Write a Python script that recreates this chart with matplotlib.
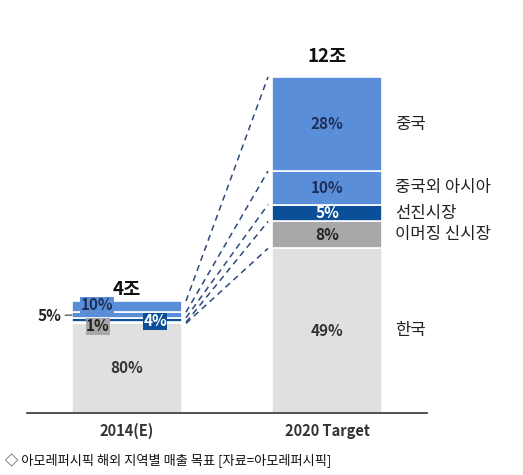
import matplotlib
matplotlib.use('Agg')
import matplotlib.pyplot as plt
import numpy as np

plt.rcParams['font.family'] = ['Noto Sans CJK KR', 'DejaVu Sans']

# data
years = ['2014(E)', '2020 Target']
totals = [4, 12]               # 조 원
total_labels = ['4조', '12조']
regions = ['한국', '이머징 신시장', '선진시장', '중국외 아시아', '중국']
shares_2014 = [80, 1, 4, 5, 10]
shares_2020 = [49, 8, 5, 10, 28]
caption = '◇ 아모레퍼시픽 해외 지역별 매출 목표 [자료=아모레퍼시픽]'

colors = ['#e0e0e0', '#a8a8a8', '#0b4f98', '#5b8ed8', '#5b8ed8']
text_colors = ['#333333', '#222222', 'white', '#1c2f5a', '#1c2f5a']

fig = plt.figure(figsize=(5.23, 4.75), dpi=100)
ax = fig.add_axes([27 / 523, 62 / 475, 400 / 523, 392 / 475])
width = 0.55
x = np.arange(len(years))
pct_size = 11

shares = [shares_2014, shares_2020]
title_offsets = [0.4, 0.72]
bounds = []
for i, (tot, sh) in enumerate(zip(totals, shares)):
    vals = np.array(sh) * tot / 100
    bottoms = np.concatenate([[0], np.cumsum(vals)[:-1]])
    ax.bar([x[i]] * len(vals), vals, width, bottom=bottoms, color=colors,
           edgecolor='white', linewidth=1.2)
    bounds.append(np.cumsum(vals))
    ax.text(x[i], tot + title_offsets[i], total_labels[i], ha='center', va='center',
            fontsize=13.5, fontweight='bold', color='#111111')

# 2020 segment labels
vals = np.array(shares_2020) * totals[1] / 100
mids = np.cumsum(vals) - vals / 2
for k, (v, m) in enumerate(zip(shares_2020, mids)):
    ax.text(x[1], m, f'{v}%', ha='center', va='center', fontsize=pct_size,
            fontweight='bold', color=text_colors[k])
    ax.text(x[1] + 0.34, m, regions[k], ha='left', va='center', fontsize=12,
            color='#222222')

# 2014 segment labels
vals = np.array(shares_2014) * totals[0] / 100
cum = np.cumsum(vals)
mids = cum - vals / 2
ax.text(x[0], mids[0], f'{shares_2014[0]}%', ha='center', va='center',
        fontsize=pct_size, fontweight='bold', color='#333333')
ax.text(x[0] - 0.15, mids[4] + 0.05, f'{shares_2014[4]}%', ha='center', va='center',
        fontsize=pct_size, fontweight='bold', color='#1c2f5a',
        bbox=dict(boxstyle='square,pad=0.02', fc=colors[4], ec='none'))
ax.text(x[0] - 0.145, mids[1] - 0.13, f'{shares_2014[1]}%', ha='center', va='center',
        fontsize=pct_size, fontweight='bold', color='#222222',
        bbox=dict(boxstyle='square,pad=0.02', fc=colors[1], ec='none'))
ax.text(x[0] + 0.14, mids[2] - 0.05, f'{shares_2014[2]}%', ha='center', va='center',
        fontsize=pct_size, fontweight='bold', color='white',
        bbox=dict(boxstyle='square,pad=0.02', fc=colors[2], ec='none'))
ax.annotate(f'{shares_2014[3]}%', xy=(x[0] - width / 2, mids[3]),
            xytext=(x[0] - width / 2 - 0.055, mids[3] - 0.03),
            ha='right', va='center', fontsize=pct_size, fontweight='bold', color='#222222',
            arrowprops=dict(arrowstyle='-', color='#333333', lw=0.8,
                            shrinkA=1, shrinkB=0))

# connector lines
for b0, b1 in zip(bounds[0], bounds[1]):
    ax.plot([x[0] + width / 2 + 0.02, x[1] - width / 2 - 0.02], [b0, b1],
            ls=(0, (4, 3)), color='#2c4a7a', lw=1.1)

ax.set_xlim(-0.5, 1.5)
ax.set_ylim(0, 14)
ax.set_xticks(x)
ax.set_xticklabels(years, fontsize=10.5, fontweight='bold', color='#333333')
ax.tick_params(axis='x', length=0, pad=7)
ax.set_yticks([])
for s in ['top', 'right', 'left']:
    ax.spines[s].set_visible(False)
ax.spines['bottom'].set_color('#333333')
ax.spines['bottom'].set_linewidth(1.2)

fig.text(5 / 523, 1 - 461 / 475, caption, ha='left', va='center', fontsize=9.5,
         color='#111111')

fig.savefig('out.png', dpi=100)
